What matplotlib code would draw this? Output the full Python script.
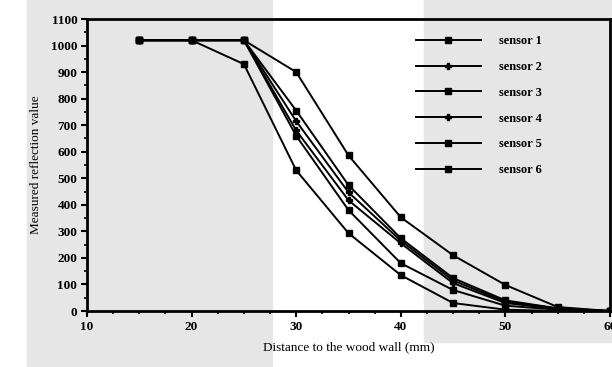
import numpy as np
import matplotlib
matplotlib.use("Agg")
from matplotlib import pyplot as plt
from matplotlib.patches import Rectangle

# distances (mm) and readings per sensor
distance = [15, 20, 25, 30, 35, 40, 45, 50, 55, 60]
sensor_1 = [1020, 1020, 1020, 755, 474, 274, 124, 40, 10, 0]
sensor_2 = [1020, 1020, 1020, 680, 417, 255, 105, 30, 8, 0]
sensor_3 = [1020, 1020, 1020, 900, 586, 353, 210, 98, 15, 0]
sensor_4 = [1020, 1020, 1020, 715, 447, 265, 115, 35, 10, 0]
sensor_5 = [1020, 1020, 930, 530, 293, 135, 30, 5, 0, 0]
sensor_6 = [1020, 1020, 1020, 660, 380, 180, 79, 20, 5, 0]

labels = ["sensor 1", "sensor 2", "sensor 3", "sensor 4", "sensor 5", "sensor 6"]
series = [sensor_1, sensor_2, sensor_3, sensor_4, sensor_5, sensor_6]
markers = ["s", "P", "s", "P", "s", "s"]

plt.rcParams["font.family"] = ["Liberation Serif", "DejaVu Serif"]
plt.rcParams["font.weight"] = "bold"

fig = plt.figure(figsize=(6.12, 3.67), dpi=100)

# grey blotches of the scanned page
fig.patches.append(Rectangle((27 / 612, 0), (272 - 27) / 612, 1,
                             transform=fig.transFigure, color="#e6e6e6", zorder=-10))
fig.patches.append(Rectangle((424 / 612, 1 - 342 / 367), 1, 342 / 367,
                             transform=fig.transFigure, color="#e6e6e6", zorder=-10))

ax = fig.add_axes([87 / 612, 1 - 311 / 367, (610 - 87) / 612, (311 - 19) / 367])
ax.patch.set_alpha(0)

for vals, lab, m in zip(series, labels, markers):
    ax.plot(distance, vals, color="black", lw=1.4, marker=m, ms=5,
            markerfacecolor="black", markeredgecolor="black", label=lab)

ax.set_xlim(10, 60)
ax.set_ylim(0, 1100)
ax.set_xticks(range(10, 61, 10))
ax.set_xticks(np.arange(10, 60.1, 2.5), minor=True)
ax.set_yticks(range(0, 1101, 100))
ax.set_yticks(range(0, 1101, 50), minor=True)
ax.tick_params(which="major", direction="out", length=4, width=1.5, labelsize=9.5, pad=3)
ax.tick_params(which="minor", direction="out", length=2.5, width=1.2)
for s in ax.spines.values():
    s.set_linewidth(2)

ax.set_xlabel("Distance to the wood wall (mm)", fontsize=9.5, labelpad=6)
ax.set_ylabel("Measured reflection value", fontsize=9.5, labelpad=6)

ax.legend(loc="upper right", bbox_to_anchor=(0.885, 0.97), frameon=False,
          fontsize=9, handlelength=5.2, labelspacing=1.1, handletextpad=1.5,
          borderaxespad=0.2)

fig.savefig("out.png", dpi=100)
